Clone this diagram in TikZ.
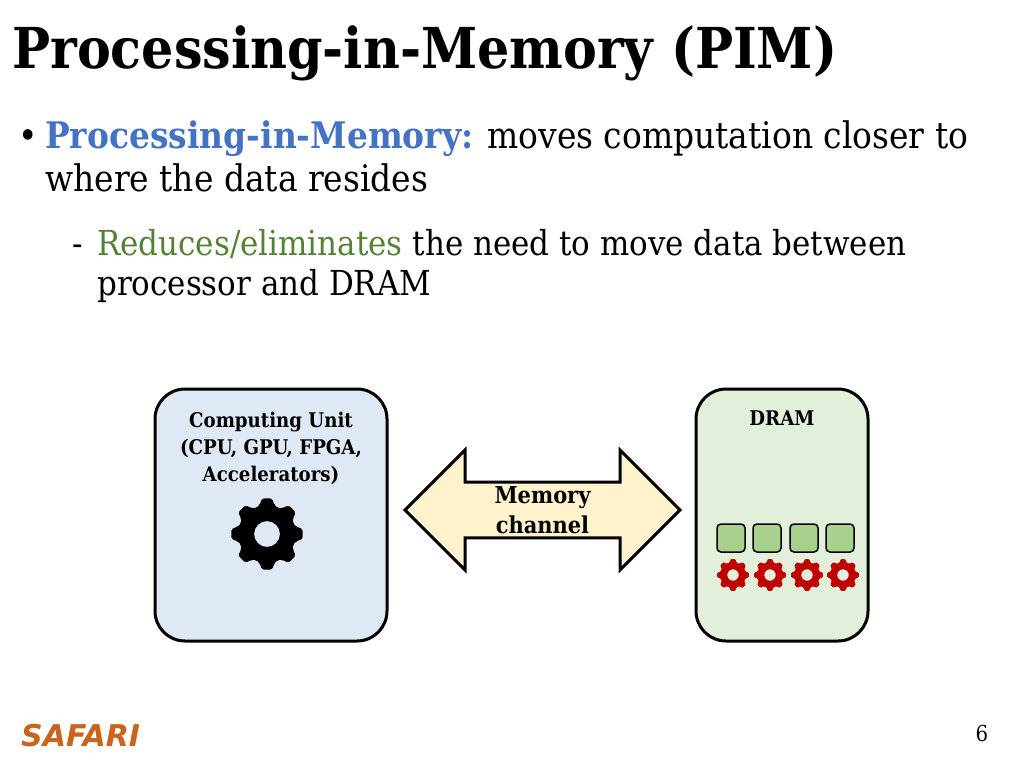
\documentclass[tikz,border=0pt]{standalone}
\usepackage{fontspec}
\setmainfont{DejaVu Serif Condensed}
\newfontfamily\safarifont{DejaVu Sans}
\usetikzlibrary{shapes.arrows}
\definecolor{slideblue}{HTML}{4472C4}
\definecolor{slidegreen}{HTML}{548235}
\definecolor{cpufill}{HTML}{DEE9F5}
\definecolor{dramfill}{HTML}{E2EFDA}
\definecolor{cellfill}{HTML}{A9D18E}
\definecolor{channelfill}{HTML}{FFF2CC}
\definecolor{gearred}{HTML}{C00000}
\definecolor{safariorange}{HTML}{C8641E}
\tikzset{
  bodyline/.style={anchor=base west,inner sep=0pt,font=\fontsize{36.6}{36.6}\selectfont},
  subline/.style={anchor=base west,inner sep=0pt,font=\fontsize{34.4}{34.4}\selectfont},
  unitbox/.style={draw=black,line width=3pt,rounded corners=30pt},
  cellbox/.style={draw=black,line width=1.5pt,rounded corners=4pt,fill=cellfill,minimum size=28pt,inner sep=0pt},
  unitlabel/.style={align=center,inner sep=0pt,font=\bfseries\fontsize{20.2}{27}\selectfont},
  pics/gearicon/.style 2 args={code={
    \fill[#1,even odd rule,rounded corners=0.05*#2 pt]
      (-22.5:0.78*#2) \foreach \a in {0,45,...,315} {
        -- (\a-14:0.84*#2) -- (\a-8:#2) -- (\a+8:#2) -- (\a+14:0.84*#2) -- (\a+22.5:0.78*#2)
      } -- cycle (0,0) circle (0.36*#2);
  }}
}
\begin{document}
\begin{tikzpicture}[x=1pt,y=-1pt]
  \useasboundingbox (0,0) rectangle (1024,768);
  % slide text
  \node[anchor=base west,inner sep=0pt,font=\bfseries\fontsize{56.4}{56.4}\selectfont] (title) at (12,68) {Processing-in-Memory (PIM)};
  \node[bodyline] (bullet) at (18,148) {•};
  \node[bodyline] (line1) at (45,148) {\textcolor{slideblue}{\textbf{Processing-in-Memory:}} moves computation closer to};
  \node[bodyline] (line2) at (45,191) {where the data resides};
  \node[subline] (dash) at (72,255) {-};
  \node[subline] (line3) at (97,255) {\textcolor{slidegreen}{Reduces/eliminates} the need to move data between};
  \node[subline] (line4) at (97,295) {processor and DRAM};
  % computing unit
  \node[unitbox,fill=cpufill,minimum width=232pt,minimum height=252pt] (cpu) at (271,515) {};
  \node[unitlabel] (cpulabel) at (271,448) {Computing Unit\\(CPU, GPU, FPGA,\\Accelerators)};
  \pic (biggear) at (267,534) {gearicon={black}{36}};
  % dram
  \node[unitbox,fill=dramfill,minimum width=172pt,minimum height=252pt] (dram) at (782,515) {};
  \node[unitlabel] (dramlabel) at (782,418) {DRAM};
  \foreach \name/\cx in {a/731,b/767,c/804,d/840} {
    \node[cellbox] (cell\name) at (\cx,538) {};
  }
  \foreach \name/\cx in {a/733,b/770,c/807,d/843} {
    \pic (gear\name) at (\cx,575) {gearicon={gearred}{16}};
  }
  % memory channel
  \node[draw=black,line width=3pt,fill=channelfill,shape=double arrow,double arrow head extend=29pt,
        minimum height=275pt,minimum width=120pt,inner sep=0pt,align=center,
        font=\bfseries\fontsize{23.3}{30}\selectfont] (channel) at (542.5,510) {Memory\\channel};
  % footer
  \node[anchor=base west,inner sep=0pt,text=safariorange,font=\safarifont\bfseries\itshape\fontsize{30}{30}\selectfont] (safari) at (21,746) {SAFARI};
  \node[anchor=base,inner sep=0pt,font=\fontsize{22}{22}\selectfont] (page) at (982,741) {6};
\end{tikzpicture}
\end{document}
